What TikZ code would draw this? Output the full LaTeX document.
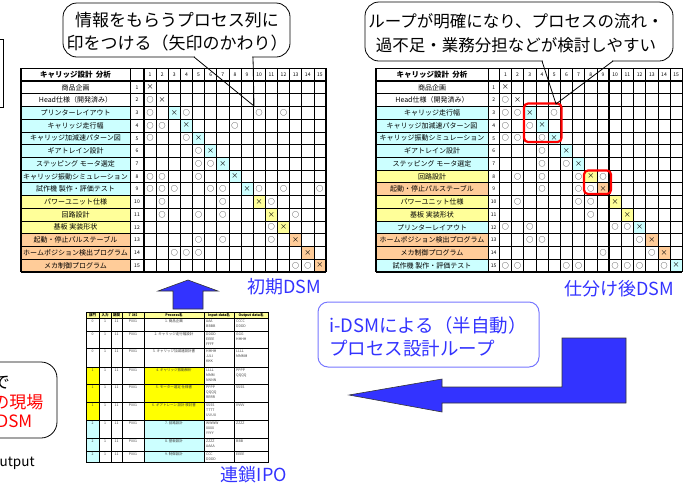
\documentclass[tikz,border=0pt]{standalone}
\usepackage{fontspec}
\setmainfont{Noto Sans CJK JP}
\definecolor{dsmcyan}{HTML}{CCFFFF}
\definecolor{dsmyel}{HTML}{FFFF99}
\definecolor{dsmorg}{HTML}{FFCC99}
\definecolor{ipoyel}{HTML}{FFFF00}
\definecolor{ipohead}{HTML}{FFFF99}
\definecolor{myblue}{HTML}{3333FF}
\definecolor{boxblue}{HTML}{7777FF}
\definecolor{myred}{HTML}{FF0000}
\tikzset{
  gridline/.style={line width=0.6pt, black},
  thickline/.style={line width=1.3pt, black},
  namecell/.style={inner sep=0pt, font=\fontsize{7}{7}\selectfont},
  headcell/.style={inner sep=0pt, font=\fontsize{7.5}{7.5}\selectfont\bfseries},
  numcell/.style={inner sep=0pt, font=\fontsize{5}{5}\selectfont},
  ocell/.style={inner sep=0pt, font=\fontsize{7}{7}\selectfont},
  xcell/.style={inner sep=0pt, font=\fontsize{7}{7}\selectfont},
  bubble/.style={draw=black, line width=0.8pt, fill=white, rounded corners=14pt},
  pointer/.style={draw=black, line width=0.8pt},
  bubbletext/.style={align=center, inner sep=0pt},
  bluelabel/.style={text=myblue, font=\fontsize{18}{18}\selectfont, inner sep=0pt},
  blockarrow/.style={fill=myblue, draw=black!80, line width=0.6pt},
  redbox/.style={draw=myred, line width=2.2pt, rounded corners=4pt},
  ipogrid/.style={line width=0.5pt, black},
  ipothick/.style={line width=1pt, black},
  ipotext/.style={inner sep=0pt, font=\fontsize{3.5}{5}\selectfont, text=black!75},
  ipohtext/.style={inner sep=0pt, font=\fontsize{3.5}{4}\selectfont\bfseries},
}
% DSM table drawer: #1 prefix, #2 rows, #3 circle marks
\newcommand\drawdsm[3]{%
  \foreach \ri/\nm/\rowc in {#2}{
    \fill[\rowc] (\dsmX,{\dsmT+\ri*\dsmH}) rectangle (\dsmN,{\dsmT+(\ri+1)*\dsmH});
    \fill[\rowc] ({\dsmC+(\ri-1)*\dsmW},{\dsmT+\ri*\dsmH}) rectangle ({\dsmC+\ri*\dsmW},{\dsmT+(\ri+1)*\dsmH});
  }
  \foreach \k in {0,...,16}
    \draw[gridline] (\dsmX,{\dsmT+\k*\dsmH}) -- ({\dsmC+15*\dsmW},{\dsmT+\k*\dsmH});
  \foreach \xx in {\dsmX,\dsmN}
    \draw[gridline] (\xx,\dsmT) -- (\xx,{\dsmT+16*\dsmH});
  \foreach \k in {0,...,15}
    \draw[gridline] ({\dsmC+\k*\dsmW},\dsmT) -- ({\dsmC+\k*\dsmW},{\dsmT+16*\dsmH});
  \draw[thickline] (\dsmX,{\dsmT+\dsmH}) -- ({\dsmC+15*\dsmW},{\dsmT+\dsmH});
  \draw[thickline] (\dsmX,{\dsmT+10*\dsmH}) -- ({\dsmC+15*\dsmW},{\dsmT+10*\dsmH});
  \draw[thickline] (\dsmC,\dsmT) -- (\dsmC,{\dsmT+16*\dsmH});
  \draw[thickline] ({\dsmC+9*\dsmW},\dsmT) -- ({\dsmC+9*\dsmW},{\dsmT+16*\dsmH});
  \draw[thickline] (\dsmX,\dsmT) rectangle ({\dsmC+15*\dsmW},{\dsmT+16*\dsmH});
  \node[headcell] (#1-title) at ({(\dsmX+\dsmN)/2},{\dsmT+0.5*\dsmH}) {キャリッジ設計\ \ 分析};
  \foreach \ri/\nm/\rowc in {#2}{
    \node[namecell] (#1-n\ri) at ({(\dsmX+\dsmN)/2},{\dsmT+(\ri+0.5)*\dsmH}) {\nm};
    \node[numcell] (#1-i\ri) at ({(\dsmN+\dsmC)/2},{\dsmT+(\ri+0.5)*\dsmH}) {\ri};
    \node[numcell] (#1-h\ri) at ({\dsmC+(\ri-0.5)*\dsmW},{\dsmT+0.5*\dsmH}) {\ri};
    \node[xcell] (#1-x\ri) at ({\dsmC+(\ri-0.5)*\dsmW},{\dsmT+(\ri+0.5)*\dsmH}) {×};
  }
  \foreach \ri/\ci in {#3}
    \node[ocell] (#1-o\ri-\ci) at ({\dsmC+(\ci-0.5)*\dsmW},{\dsmT+(\ri+0.5)*\dsmH}) {○};
}
\begin{document}
\begin{tikzpicture}[x=1pt,y=-1pt]
\useasboundingbox (0,0) rectangle (687,483);

% ---------- left partial frame (cut off) ----------
\draw[line width=0.8pt] (-10,39) rectangle (3,107);

% ---------- initial DSM (left) ----------
\def\dsmX{21}\def\dsmN{130}\def\dsmC{144}\def\dsmW{12.13}\def\dsmT{68.3}\def\dsmH{12.72}
\drawdsm{L}{1/商品企画/white, 2/Head仕様（開発済み）/white, 3/プリンターレイアウト/dsmcyan,
 4/キャリッジ走行幅/dsmcyan, 5/キャリッジ加減速パターン図/dsmcyan, 6/ギアトレイン設計/dsmcyan,
 7/ステッピング モータ選定/dsmcyan, 8/キャリッジ振動シミュレーション/dsmcyan,
 9/試作機 製作・評価テスト/dsmcyan, 10/パワーユニット仕様/dsmyel, 11/回路設計/dsmyel,
 12/基板 実装形状/dsmyel, 13/起動・停止パルステーブル/dsmorg,
 14/ホームポジション検出プログラム/dsmorg, 15/メカ制御プログラム/dsmorg}
{2/1, 3/1, 3/4, 3/10, 3/12, 4/1, 4/2, 4/8, 5/1, 5/4, 6/5, 7/5, 7/6, 8/1, 8/2, 8/5,
 9/1, 9/2, 9/3, 9/6, 9/7, 9/10, 9/12, 9/15, 10/2, 10/7, 10/11, 11/2, 11/5, 11/7, 11/13,
 12/11, 13/5, 13/7, 13/11, 14/3, 14/4, 14/5, 15/13, 15/14}

% ---------- sorted DSM (right) ----------
\def\dsmX{376}\def\dsmN{488}\def\dsmC{499.3}\def\dsmW{12.2}\def\dsmT{68.3}\def\dsmH{12.72}
\drawdsm{R}{1/商品企画/white, 2/Head仕様（開発済み）/white, 3/キャリッジ走行幅/dsmcyan,
 4/キャリッジ加減速パターン図/dsmcyan, 5/キャリッジ振動シミュレーション/dsmcyan,
 6/ギアトレイン設計/dsmcyan, 7/ステッピング モータ選定/dsmcyan, 8/回路設計/dsmyel,
 9/起動・停止パルステーブル/dsmorg, 10/パワーユニット仕様/dsmyel, 11/基板 実装形状/dsmyel,
 12/プリンターレイアウト/dsmcyan, 13/ホームポジション検出プログラム/dsmorg,
 14/メカ制御プログラム/dsmorg, 15/試作機 製作・評価テスト/dsmcyan}
{2/1, 3/1, 3/2, 3/5, 4/1, 4/3, 5/1, 5/2, 5/4, 6/4, 7/4, 7/6, 8/2, 8/4, 8/7, 8/9,
 9/4, 9/7, 9/8, 10/2, 10/7, 10/8, 11/8, 12/1, 12/3, 12/10, 12/11, 13/3, 13/4, 13/12,
 14/9, 14/13, 15/1, 15/2, 15/6, 15/7, 15/10, 15/11, 15/12, 15/14}

% red loop highlights
\draw[redbox] (524,103.5) rectangle (561.5,142);
\draw[redbox] (584,170.5) rectangle (611,194);

% ---------- callouts ----------
\draw[bubble] (63,3) rectangle (290,57);
\fill[white] (195,55.5) rectangle (252.4,58.5);
\coordinate (tipL) at (254,106);
\draw[pointer] (194,57) -- (tipL) -- (253,57);
\node[bubbletext, font=\fontsize{17}{23}\selectfont] (calloutL) at (177,32)
  {情報をもらうプロセス列に\\印をつける（矢印のかわり）};

\draw[bubble] (365,2) rectangle (673,61);
\fill[white] (543,59.5) rectangle (612,62.5);
\coordinate (tipR) at (556,104);
\draw[pointer] (542,61) -- (tipR) -- (613,61);
\node[bubbletext, font=\fontsize{16.5}{24}\selectfont] (calloutR) at (516,33)
  {ループが明確になり、プロセスの流れ・\\過不足・業務分担などが検討しやすい};

% left-bottom partial bubble
\draw[bubble, rounded corners=16pt] (-40,362) rectangle (57,438);
\node[inner sep=0pt, anchor=east, font=\fontsize{17}{17}\selectfont] (cutA) at (10,383) {で};
\node[inner sep=0pt, anchor=east, font=\fontsize{17}{17}\selectfont, text=myred] (cutB) at (43.5,402) {の現場};
\node[inner sep=0pt, anchor=east, font=\fontsize{17}{17}\selectfont, text=myred] (cutC) at (32.5,421) {DSM};
\node[inner sep=0pt, anchor=west, font=\fontsize{13.5}{13.5}\selectfont] (cutD) at (-0.5,463) {utput};

% ---------- labels ----------
\node[bluelabel] (lblInit) at (284,287) {初期DSM};
\node[bluelabel] (lblSorted) at (619,289) {仕分け後DSM};
\node[bluelabel] (lblIPO) at (254,475) {連鎖IPO};

% i-DSM box
\draw[draw=boxblue, line width=1pt, rounded corners=10pt, fill=white] (318,302) rectangle (539,367);
\node[anchor=west, align=left, inner sep=0pt, text=myblue, font=\fontsize{18.5}{23}\selectfont] (idsm) at (329,336.5)
  {i-DSMによる（半自動）\\プロセス設計ループ};

% ---------- arrows ----------
\draw[blockarrow] (173,309) -- (203,309) -- (203,291) -- (218,291) -- (188,280) -- (158,291) -- (173,291) -- cycle;
\draw[blockarrow] (562,338) -- (626,338) -- (626,403) -- (442,403) -- (442,412) -- (349,395)
  -- (442,379) -- (442,387) -- (562,387) -- cycle;

% ---------- chained IPO table ----------
\fill[ipohead] (86,312) rectangle (268,318);
\fill[ipoyel] (86,367) rectangle (99,420);
\fill[ipoyel] (144,367) rectangle (204,420);
\fill[dsmcyan] (86,420) rectangle (99,462);
\fill[dsmcyan] (144,420) rectangle (204,462);
\foreach \yy in {318,331,348,367,384,402,420,438,451}
  \draw[ipogrid] (86,\yy) -- (268,\yy);
\foreach \xx in {111,122,204,234}
  \draw[ipogrid] (\xx,312) -- (\xx,462);
\foreach \xx in {99,144}
  \draw[ipothick] (\xx,312) -- (\xx,462);
\draw[ipothick] (86,312) rectangle (268,462);
\node[ipohtext] (Ih1) at (92.5,315) {部門};
\node[ipohtext] (Ih2) at (105,315) {入力};
\node[ipohtext] (Ih3) at (116.5,315) {期間};
\node[ipohtext] (Ih4) at (133,315) {ﾌﾟﾛｾｽ};
\node[ipohtext] (Ih5) at (174,315) {Process名};
\node[ipohtext] (Ih6) at (219,315) {Input data名};
\node[ipohtext] (Ih7) at (251,315) {Output data名};
\foreach \ir/\ya/\dp/\pr/\ins/\outs in {
  1/318/0/{1. 商品企画}/{AAA\\BBBB}/{CCCC\\DDDD},
  2/331/0/{2. キャリッジ走行幅設計}/{DDDD\\EEEE\\FFFF}/{GGG\\HHHH},
  3/348/0/{3. キャリッジ加減速設計書}/{HHHH\\JJJJ\\KKK}/{LLLL\\MMMM},
  4/367/1/{4. キャリッジ振動解析}/{LLLL\\MMM\\NNNN}/{PPPP\\QQQQ},
  5/384/1/{5. モーター選定 仕様書}/{PPPP\\QQQQ\\RRRR}/{SSSS},
  6/402/1/{6. ギアトレーン 設計 検討書}/{SSSS\\TTTT\\UUUU}/{VVVV},
  7/420/2/{7. 回路設計}/{WWWW\\XXXX\\YYYY}/{ZZZZ},
  8/438/2/{8. 基板設計}/{ZZZZ\\AAAA}/{BBB},
  9/451/2/{9. 制御設計}/{CCC\\DDDD}/{EEEE}}{
  \node[ipotext, anchor=north] (I-a\ir) at (92.5,{\ya+1.5}) {\dp};
  \node[ipotext, anchor=north] (I-b\ir) at (105,{\ya+1.5}) {1};
  \node[ipotext, anchor=north] (I-c\ir) at (116.5,{\ya+1.5}) {11};
  \node[ipotext, anchor=north] (I-d\ir) at (133,{\ya+1.5}) {P001};
  \node[ipotext, anchor=north] (I-e\ir) at (174,{\ya+1.5}) {\pr};
  \node[ipotext, anchor=north west, align=left] (I-f\ir) at (206,{\ya+1.5}) {\ins};
  \node[ipotext, anchor=north west, align=left] (I-g\ir) at (236,{\ya+1.5}) {\outs};
}
\end{tikzpicture}
\end{document}
